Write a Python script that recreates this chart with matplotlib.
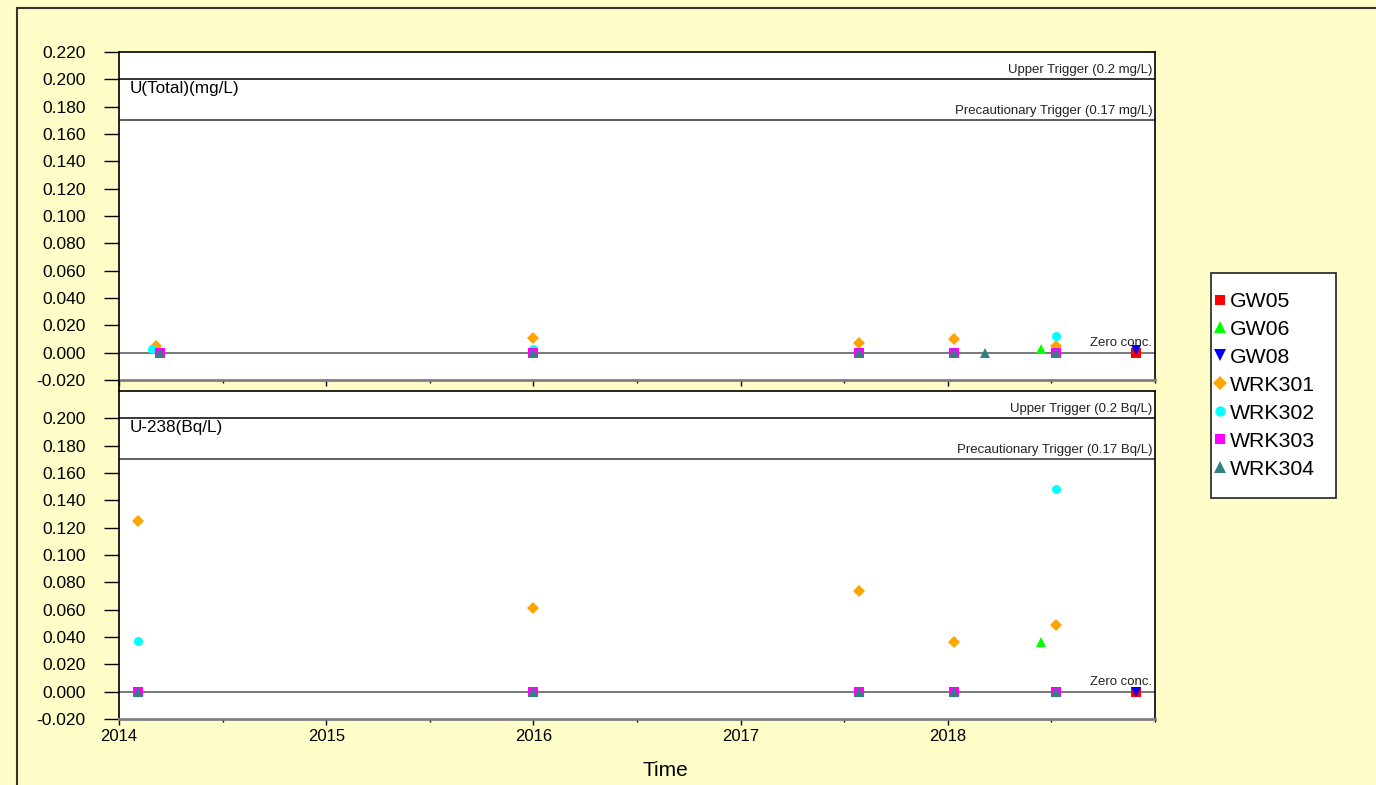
import numpy as np
import matplotlib.pyplot as plt
from matplotlib.patches import Rectangle
from matplotlib.lines import Line2D
from matplotlib.ticker import MultipleLocator, FormatStrFormatter

plt.rcParams['font.family'] = ['Liberation Sans', 'DejaVu Sans']

# Sites and marker styles
sites = ["GW05", "GW06", "GW08", "WRK301", "WRK302", "WRK303", "WRK304"]
colors = ["#FF0000", "#00FF00", "#0000FF", "#FFA500", "#00FFFF", "#FF00FF", "#338080"]
markers = ["s", "^", "v", "D", "o", "s", "^"]

# U(Total) (mg/L) - dates as decimal years
utot_dates = {
    "GW05": [2018.91],
    "GW06": [2018.45],
    "GW08": [2018.91],
    "WRK301": [2014.18, 2016.0, 2017.57, 2018.03, 2018.52],
    "WRK302": [2014.16, 2016.0, 2018.52],
    "WRK303": [2014.2, 2016.0, 2017.57, 2018.03, 2018.52],
    "WRK304": [2014.2, 2016.0, 2017.57, 2018.03, 2018.18, 2018.52],
}
utot_vals = {
    "GW05": [0.0],
    "GW06": [0.0025],
    "GW08": [0.002],
    "WRK301": [0.005, 0.011, 0.007, 0.010, 0.005],
    "WRK302": [0.003, 0.003, 0.0125],
    "WRK303": [0.0, 0.0, 0.0, 0.0, 0.0],
    "WRK304": [0.0, 0.0, 0.0, 0.0, 0.0, 0.0],
}

# U-238 (Bq/L)
u238_dates = {
    "GW05": [2018.91],
    "GW06": [2018.45],
    "GW08": [2018.91],
    "WRK301": [2014.09, 2016.0, 2017.57, 2018.03, 2018.52],
    "WRK302": [2014.09, 2018.52],
    "WRK303": [2014.09, 2016.0, 2017.57, 2018.03, 2018.52],
    "WRK304": [2014.09, 2016.0, 2017.57, 2018.03, 2018.52],
}
u238_vals = {
    "GW05": [0.0],
    "GW06": [0.036],
    "GW08": [0.0],
    "WRK301": [0.125, 0.061, 0.074, 0.036, 0.049],
    "WRK302": [0.037, 0.148],
    "WRK303": [0.0, 0.0, 0.0, 0.0, 0.0],
    "WRK304": [0.0, 0.0, 0.0, 0.0, 0.0],
}

panels = [
    ("U(Total)(mg/L)", "mg/L", utot_dates, utot_vals),
    ("U-238(Bq/L)", "Bq/L", u238_dates, u238_vals),
]
upper_trigger = 0.2
precaution_trigger = 0.17
year_ticks = [2014, 2015, 2016, 2017, 2018]

bg = "#FFFDC8"
W, H = 1376, 785
fig = plt.figure(figsize=(W / 100, H / 100), dpi=100, facecolor=bg)

# outer frame
fig.add_artist(Rectangle((17 / W, -0.1), 2, 1.1 - 8 / H, transform=fig.transFigure,
                         facecolor="none", edgecolor="#333333", linewidth=1.5))

ax_left, ax_w = 119 / W, 1036 / W
ax_h = 328 / H
axes = [fig.add_axes([ax_left, 1 - 380 / H, ax_w, ax_h]),
        fig.add_axes([ax_left, 1 - 719 / H, ax_w, ax_h])]
# left axis line continues through the gap between panels
fig.add_artist(Line2D([ax_left, ax_left], [1 - 391 / H, 1 - 380 / H],
                      transform=fig.transFigure, color="black", linewidth=1.2))

handles = []
for i, (ax, (title, unit, dates, vals)) in enumerate(zip(axes, panels)):
    ax.set_facecolor("white")
    for y, c in [(upper_trigger, "black"), (precaution_trigger, "#333333"), (0.0, "#555555")]:
        ax.axhline(y, color=c, linewidth=1.1, zorder=1)
    for s, c, m in zip(sites, colors, markers):
        ms = 7 if m in ("^", "v") else 6.5
        ln, = ax.plot(dates[s], vals[s], linestyle="none", marker=m, color=c,
                      markersize=ms, markeredgewidth=0, label=s, zorder=3, clip_on=False)
        if i == 0:
            handles.append(ln)

    ax.set_xlim(2014, 2019)
    ax.set_ylim(-0.02, 0.22)
    top_tick = 0.22 if i == 0 else 0.20
    ax.set_yticks(np.arange(-0.02, top_tick + 0.001, 0.02))
    ax.yaxis.set_major_formatter(FormatStrFormatter("%.3f"))
    ax.set_xticks(year_ticks)
    ax.xaxis.set_minor_locator(MultipleLocator(0.5))
    ax.xaxis.set_major_formatter(FormatStrFormatter("%d"))
    ax.tick_params(axis="y", direction="out", length=11, width=1, pad=13, labelsize=12.5)
    ax.tick_params(axis="x", which="major", direction="out", length=4.5, width=1, pad=3,
                   labelsize=12)
    ax.tick_params(axis="x", which="minor", direction="out", length=2.2, width=1)
    if i == 0:
        ax.tick_params(axis="x", labelbottom=False)
    for sp in ["left", "top", "right"]:
        ax.spines[sp].set_color("black")
        ax.spines[sp].set_linewidth(1.2)
    ax.spines["bottom"].set_color("#808080")
    ax.spines["bottom"].set_linewidth(2)

    ax.text(2014.05, 0.1985, title, fontsize=12.3, va="top", ha="left")
    for y, lbl in [(upper_trigger, "Upper Trigger (%g %s)" % (upper_trigger, unit)),
                   (precaution_trigger, "Precautionary Trigger (%g %s)" % (precaution_trigger, unit)),
                   (0.0, "Zero conc.")]:
        ax.annotate(lbl, xy=(1, y), xycoords=("axes fraction", "data"), xytext=(-2, 2.5),
                    textcoords="offset points", ha="right", va="bottom", fontsize=9.5,
                    color="#222222")

fig.text(665 / W, 1 - 770 / H, "Time", fontsize=15, ha="center", va="center")

# legend box drawn separately so its padding can match the reference
fig.add_artist(Rectangle((1211 / W, 1 - 498 / H), 125 / W, 225 / H, transform=fig.transFigure,
                         facecolor="white", edgecolor="#222222", linewidth=1.2, zorder=5))
leg = fig.legend(handles=handles, loc="upper left", bbox_to_anchor=(1214 / W, 1 - 292 / H),
                 bbox_transform=fig.transFigure, borderaxespad=0, borderpad=0, fontsize=15.3,
                 frameon=False, handlelength=0.55, handletextpad=0.2, labelspacing=0.42,
                 markerscale=1.15)
leg.set_zorder(6)

fig.savefig("out.png", dpi=100, facecolor=bg)
